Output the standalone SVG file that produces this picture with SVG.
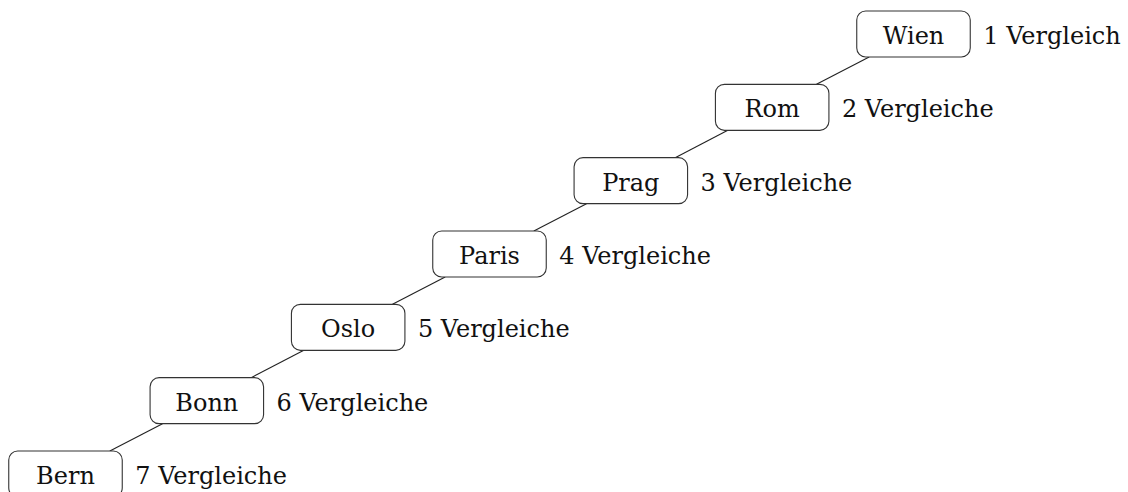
<svg xmlns="http://www.w3.org/2000/svg" width="1128" height="492" viewBox="0 0 1128 492">
<style>
.box{fill:#fff;stroke:#333;stroke-width:1.1}
.t{font-family:"DejaVu Serif","Liberation Serif",serif;font-size:24px;fill:#111}
.n{text-anchor:middle}
.e{stroke:#222;stroke-width:1.1;fill:none}
</style>
<rect width="1128" height="492" fill="#fff"/>
<g id="edges">
<line class="e" x1="869.17" y1="57" x2="816.5" y2="84.33"/>
<line class="e" x1="727.83" y1="130.33" x2="675.17" y2="157.67"/>
<line class="e" x1="586.5" y1="203.67" x2="533.83" y2="231"/>
<line class="e" x1="445.17" y1="277" x2="392.5" y2="304.33"/>
<line class="e" x1="303.83" y1="350.33" x2="251.17" y2="377.67"/>
<line class="e" x1="162.5" y1="423.67" x2="109.83" y2="451"/>
</g>
<g id="wien"><rect class="box" x="856.75" y="11" width="113.5" height="46" rx="9"/><text class="t n" x="913.5" y="44">Wien</text><text class="t" x="983.25" y="44">1 Vergleich</text></g>
<g id="rom"><rect class="box" x="715.42" y="84.33" width="113.5" height="46" rx="9"/><text class="t n" x="772.17" y="117.33">Rom</text><text class="t" x="841.92" y="117.33">2 Vergleiche</text></g>
<g id="prag"><rect class="box" x="574.08" y="157.67" width="113.5" height="46" rx="9"/><text class="t n" x="630.83" y="190.67">Prag</text><text class="t" x="700.58" y="190.67">3 Vergleiche</text></g>
<g id="paris"><rect class="box" x="432.75" y="231" width="113.5" height="46" rx="9"/><text class="t n" x="489.5" y="264">Paris</text><text class="t" x="559.25" y="264">4 Vergleiche</text></g>
<g id="oslo"><rect class="box" x="291.42" y="304.33" width="113.5" height="46" rx="9"/><text class="t n" x="348.17" y="337.33">Oslo</text><text class="t" x="417.92" y="337.33">5 Vergleiche</text></g>
<g id="bonn"><rect class="box" x="150.08" y="377.67" width="113.5" height="46" rx="9"/><text class="t n" x="206.83" y="410.67">Bonn</text><text class="t" x="276.58" y="410.67">6 Vergleiche</text></g>
<g id="bern"><rect class="box" x="8.75" y="451" width="113.5" height="46" rx="9"/><text class="t n" x="65.5" y="484">Bern</text><text class="t" x="135.25" y="484">7 Vergleiche</text></g>
</svg>
